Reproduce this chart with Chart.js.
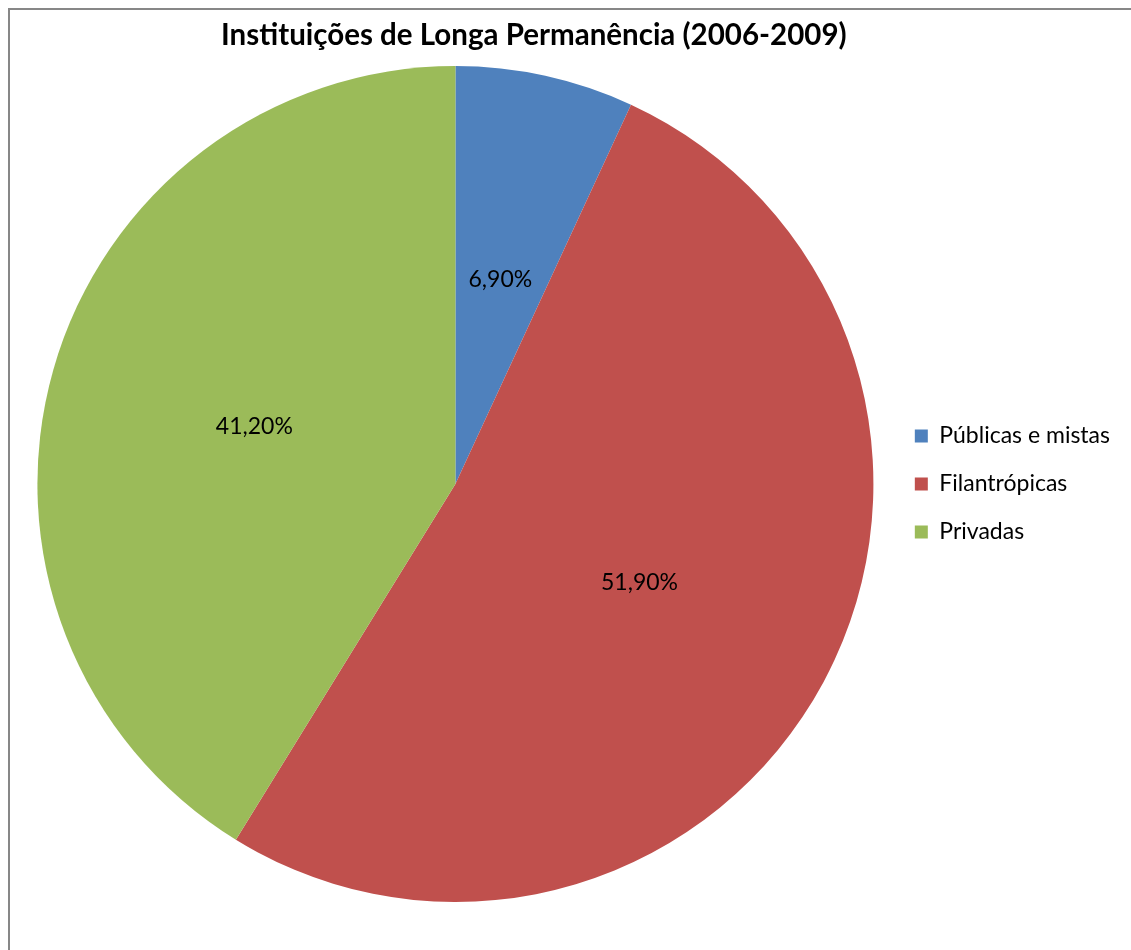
<!DOCTYPE html>
<html>
<head>
<meta charset="utf-8">
<script src="https://cdn.jsdelivr.net/npm/chart.js@4/dist/chart.umd.min.js"></script>
<style>
  html, body { margin: 0; padding: 0; background: #fff; overflow: hidden; }
  #frame {
    position: absolute; left: 8px; top: 8px; width: 1200px; height: 1000px;
    border-left: 2px solid #878787; border-top: 2px solid #878787;
  }
  #wrap { position: absolute; left: 0; top: 0; width: 1131px; height: 950px; }
</style>
</head>
<body>
<div id="frame"></div>
<div id="wrap"><canvas id="pie"></canvas></div>
<script>
const chartTitle = "Instituições de Longa Permanência (2006-2009)";
const categories = ["Públicas e mistas", "Filantrópicas", "Privadas"];
const shares = [6.9, 51.9, 41.2];
const sliceColors = ["#4F81BD", "#C0504D", "#9BBB59"];

const fontFamily = "Lato, 'Open Sans', sans-serif";

// percentage text in the middle of each slice
const sliceLabels = {
  id: "sliceLabels",
  afterDatasetsDraw(chart) {
    const ctx = chart.ctx;
    const meta = chart.getDatasetMeta(0);
    ctx.save();
    ctx.font = "23px " + fontFamily;
    ctx.fillStyle = "#000";
    ctx.textAlign = "center";
    ctx.textBaseline = "middle";
    meta.data.forEach((arc, i) => {
      const p = arc.tooltipPosition();
      ctx.fillText(shares[i].toFixed(2).replace(".", ",") + "%", p.x, p.y);
    });
    ctx.restore();
  }
};

// title sits centred over the whole frame, not just the plot + legend
const frameTitle = {
  id: "frameTitle",
  afterDraw(chart) {
    const ctx = chart.ctx;
    ctx.save();
    ctx.font = "bold 29.5px " + fontFamily;
    ctx.fillStyle = "#000";
    ctx.textAlign = "center";
    ctx.textBaseline = "middle";
    ctx.fillText(chartTitle, chart.width * 0.472, 35.5);
    ctx.restore();
  }
};

new Chart(document.getElementById("pie"), {
  type: "pie",
  plugins: [sliceLabels, frameTitle],
  data: {
    labels: categories,
    datasets: [{
      data: shares,
      backgroundColor: sliceColors,
      borderWidth: 0
    }]
  },
  options: {
    responsive: true,
    maintainAspectRatio: false,
    animation: false,
    layout: { padding: { left: 21, right: 11, top: 66, bottom: 48 } },
    plugins: {
      tooltip: { enabled: false },
      title: { display: false },
      legend: {
        position: "right",
        fullSize: false,
        labels: {
          color: "#000",
          boxWidth: 13,
          boxHeight: 13,
          padding: 25,
          font: { family: fontFamily, size: 23 }
        }
      }
    }
  }
});
</script>
</body>
</html>
